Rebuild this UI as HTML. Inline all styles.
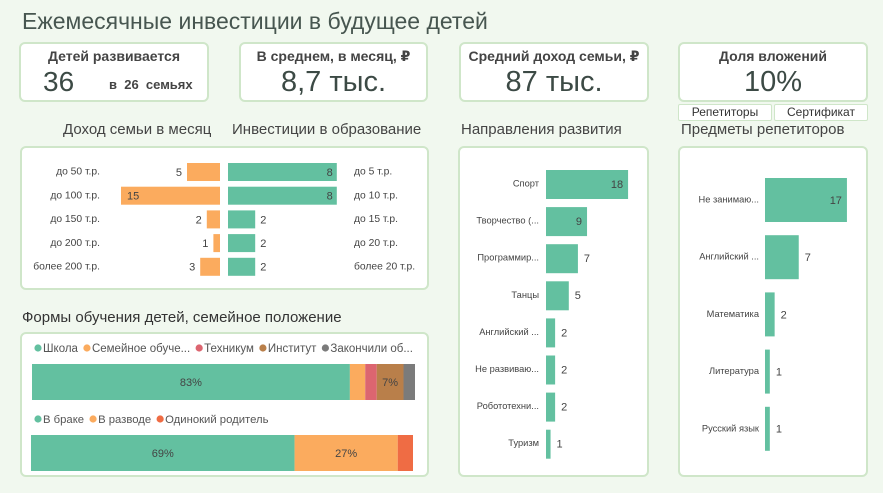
<!DOCTYPE html>
<html><head><meta charset="utf-8"><style>
body{margin:0;width:883px;height:493px;background:#f1f8ef;font-family:"Liberation Sans","DejaVu Sans",sans-serif;color:#333;position:relative;overflow:hidden}
.a{position:absolute}
.card{position:absolute;background:#fff;border:2px solid #cfe6c9;border-radius:6px;box-sizing:border-box}
.t{position:absolute;white-space:nowrap}
</style></head><body>
<div class="t" style="left:22px;top:8px;font-size:23px;color:#475650">Ежемесячные инвестиции в будущее детей</div>

<div class="card" style="left:19px;top:42px;width:190px;height:60px">
<div class="t" style="left:0;width:186px;text-align:center;top:4px;font-size:14px;font-weight:bold;color:#444">Детей развивается</div>
<div class="t" style="left:22px;top:22px;font-size:28px;color:#3c4a45">36</div>
<div class="t" style="left:88px;top:33px;font-size:13px;font-weight:bold;color:#444">в&nbsp; 26&nbsp; семьях</div></div>
<div class="card" style="left:239px;top:42px;width:189px;height:60px">
<div class="t" style="left:0;width:185px;text-align:center;top:4px;font-size:14px;font-weight:bold;color:#444">В среднем, в месяц, ₽</div>
<div class="t" style="left:0;width:185px;text-align:center;top:22px;font-size:29px;color:#3c4a45">8,7 тыс.</div></div>
<div class="card" style="left:459px;top:42px;width:190px;height:60px">
<div class="t" style="left:0;width:186px;text-align:center;top:4px;font-size:14px;font-weight:bold;color:#444">Средний доход семьи, ₽</div>
<div class="t" style="left:0;width:186px;text-align:center;top:22px;font-size:29px;color:#3c4a45">87 тыс.</div></div>
<div class="card" style="left:678px;top:42px;width:190px;height:60px">
<div class="t" style="left:0;width:186px;text-align:center;top:4px;font-size:14px;font-weight:bold;color:#444">Доля вложений</div>
<div class="t" style="left:0;width:186px;text-align:center;top:22px;font-size:29px;color:#3c4a45">10%</div></div>
<div class="card" style="left:678px;top:104px;width:94px;height:17px;border-width:1px;border-radius:2px;font-size:12px;text-align:center;line-height:15px">Репетиторы</div>
<div class="card" style="left:774px;top:104px;width:94px;height:17px;border-width:1px;border-radius:2px;font-size:12px;text-align:center;line-height:15px">Сертификат</div>

<div class="t" style="left:63px;top:121px;font-size:15px;color:#444">Доход семьи в месяц</div>
<div class="t" style="left:232px;top:121px;font-size:15px;color:#444">Инвестиции в образование</div>
<div class="t" style="left:461px;top:121px;font-size:15px;color:#444">Направления развития</div>
<div class="t" style="left:681px;top:121px;font-size:15px;color:#444">Предметы репетиторов</div>
<div class="t" style="left:22px;top:309px;font-size:15px;color:#333">Формы обучения детей, семейное положение</div>

<div class="card" style="left:20px;top:146px;width:409px;height:144px"></div>
<div class="card" style="left:20px;top:332px;width:409px;height:145px"></div>
<div class="card" style="left:458px;top:146px;width:191px;height:331px"></div>
<div class="card" style="left:678px;top:146px;width:190px;height:331px"></div>

<svg class="a" style="left:0;top:0" width="883" height="493" id="svg" font-family="Liberation Sans, DejaVu Sans, sans-serif"></svg>
<script>
const incomeCats=["до 50 т.р.","до 100 т.р.","до 150 т.р.","до 200 т.р.","более 200 т.р."];
const incomeVals=[5,15,2,1,3];
const investCats=["до 5 т.р.","до 10 т.р.","до 15 т.р.","до 20 т.р.","более 20 т.р."];
const investVals=[8,8,2,2,2];
const dirCats=["Спорт","Творчество (...","Программир...","Танцы","Английский ...","Не развиваю...","Робототехни...","Туризм"];
const dirVals=[18,9,7,5,2,2,2,1];
const tutCats=["Не занимаю...","Английский ...","Математика","Литература","Русский язык"];
const tutVals=[17,7,2,1,1];
const eduNames=["Школа","Семейное обуче...","Техникум","Институт","Закончили об..."];
const eduVals=[83,4,3,7,3];
const famNames=["В браке","В разводе","Одинокий родитель"];
const famVals=[69,27,4];
const eduColors=["#63c0a0","#fbab5e","#dc6570","#b97f4a","#7b7b7b"];
const famColors=["#63c0a0","#fbab5e","#ef6c44"];
const G="#63c0a0",O="#fbab5e";
const svg=document.getElementById('svg');const NS="http://www.w3.org/2000/svg";
function el(tag,at,txt){const e=document.createElementNS(NS,tag);for(const k in at)e.setAttribute(k,at[k]);if(txt!==undefined)e.textContent=txt;svg.appendChild(e);return e;}
function txt(x,y,s,anchor,size,name,fill){const e=el('text',{x:x,y:y,'text-anchor':anchor,'font-size':size,fill:fill||'#444','dominant-baseline':'middle'},s);

return e;}
const rowY=i=>172+i*23.7;
const xInc=v=>v*6.6, xInv=v=>v*13.6;
incomeVals.forEach((v,i)=>{const w=xInc(v),y=rowY(i);
const r=el('rect',{x:220-w,y:y-9,width:w,height:18,fill:O});


if(w>40)txt(220-w+6,y+1,v,'start',11,'income-value');else txt(220-w-5,y+1,v,'end',11,'income-value');
txt(100,y,incomeCats[i],'end',10.3,'income-label');});
investVals.forEach((v,i)=>{const w=xInv(v),y=rowY(i);
const r=el('rect',{x:228,y:y-9,width:w,height:18,fill:G});


if(w>40)txt(228+w-4,y+1,v,'end',11,'invest-value');else txt(228+w+5,y+1,v,'start',11,'invest-value');
txt(354,y,investCats[i],'start',10.3,'invest-label');});
const xDir=v=>v*4.56;
dirVals.forEach((v,i)=>{const y=184+i*37.1,w=xDir(v);
const r=el('rect',{x:546,y:y-14,width:w,height:29,fill:G});


if(w>40)txt(546+w-5,y+1,v,'end',11,'direction-value');else txt(546+w+6,y+1,v,'start',11,'direction-value');
txt(539,y,dirCats[i],'end',9.3,'direction-label');});
const xTut=v=>v*4.82;
tutVals.forEach((v,i)=>{const y=200+i*57.2,w=xTut(v);
const r=el('rect',{x:765,y:y-22,width:w,height:44,fill:G});


if(w>40)txt(765+w-5,y+1,v,'end',11,'tutor-value');else txt(765+w+6,y+1,v,'start',11,'tutor-value');
txt(759,y,tutCats[i],'end',9.3,'tutor-label');});
function stacked(vals,names,cols,x0,w,y,ly,nm,fs){
let lx=34;names.forEach((n,i)=>{const c=el('circle',{cx:lx+4,cy:ly,r:3.6,fill:cols[i]});


const t=txt(lx+9,ly+1,n,'start',fs,nm+'-legend-entry','#555');lx+=t.getComputedTextLength()+14;});
const tot=vals.reduce((a,b)=>a+b,0);let x=x0;
vals.forEach((v,i)=>{const sw=v/tot*w;const r=el('rect',{x:x,y:y,width:sw,height:36,fill:cols[i]});


if(v>=5)txt(x+sw/2,y+19,v+'%','middle',11,nm+'-segment-label');x+=sw;});}
stacked(eduVals,eduNames,eduColors,32,383,364,348,'education',11.5);
stacked(famVals,famNames,famColors,31,382,435,419,'family',11.3);
</script>
</body></html>
